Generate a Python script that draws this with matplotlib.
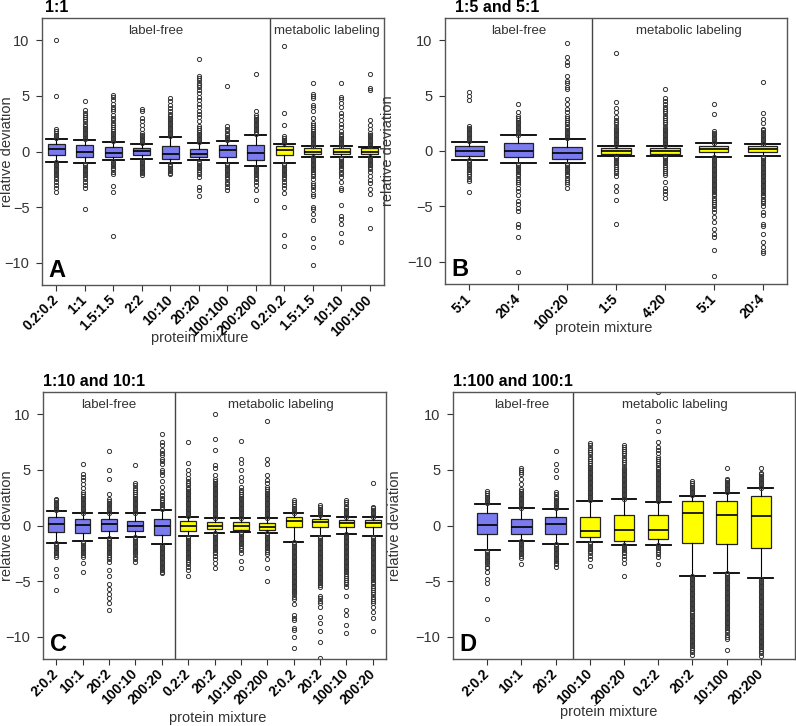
import matplotlib
matplotlib.use('Agg')
import matplotlib.pyplot as plt

plt.rcParams['font.family'] = ['Liberation Sans', 'DejaVu Sans']

FREE_COLOR = '#7b7bf0'
LABEL_COLOR = '#ffff00'

# ---------------- panel A : 1:1 ----------------
a_labels = ['0.2:0.2', '1:1', '1.5:1.5', '2:2', '10:10', '20:20', '100:100', '200:200',
            '0.2:0.2', '1.5:1.5', '10:10', '100:100']
a_n_free = 8
a_med = [0.2, 0.0, -0.1, 0.05, -0.2, -0.2, 0.1, -0.15, 0.1, 0.0, 0.0, 0.0]
a_q1 = [-0.3, -0.5, -0.45, -0.33, -0.7, -0.5, -0.5, -0.75, -0.3, -0.25, -0.25, -0.2]
a_q3 = [0.66, 0.54, 0.42, 0.27, 0.5, 0.2, 0.54, 0.6, 0.45, 0.3, 0.3, 0.3]
a_lo = [-0.9, -1.05, -0.75, -0.65, -1.05, -0.8, -1.05, -1.3, -1.05, -0.45, -0.5, -0.45]
a_hi = [1.1, 1.0, 0.87, 0.63, 1.3, 0.75, 0.9, 1.5, 0.7, 0.45, 0.45, 0.4]
a_fliers = [
    [1.2, 1.35, 1.5, 1.65, 1.8, 2.0, 5.0, 10.0,
     -0.95, -1.1, -1.25, -1.4, -1.55, -1.7, -1.85, -2.0, -2.15, -2.3, -2.5, -2.7, -3.0, -3.3, -3.6],
    [1.1, 1.25, 1.4, 1.55, 1.7, 1.85, 2.0, 2.15, 2.3, 2.5, 2.7, 2.9, 3.1, 3.3, 3.5, 3.7, 4.5,
     -1.1, -1.25, -1.4, -1.55, -1.7, -1.85, -2.0, -2.15, -2.3, -2.5, -2.7, -3.0, -3.3, -5.2],
    [0.95, 1.1, 1.25, 1.4, 1.55, 1.7, 1.85, 2.0, 2.2, 2.4, 2.6, 2.8, 3.0, 3.3, 3.6, 3.8, 4.0, 4.3,
     4.6, 4.9, 5.1,
     -0.85, -1.0, -1.15, -1.3, -1.45, -1.6, -1.8, -2.0, -3.1, -3.6, -7.6],
    [0.75, 0.9, 1.05, 1.2, 1.35, 1.5, 1.7, 2.0, 2.4, 2.7, 3.0, 3.6, 3.8,
     -0.75, -0.9, -1.05, -1.2, -1.35, -1.5, -1.65, -1.8, -1.95, -2.1],
    [1.4, 1.55, 1.7, 1.85, 2.0, 2.15, 2.3, 2.45, 2.6, 2.75, 2.9, 3.05, 3.2, 3.4, 3.6, 3.9, 4.2,
     4.5, 4.8,
     -1.15, -1.3, -1.45, -1.6, -1.75, -1.9, -2.0],
    [0.85, 1.0, 1.15, 1.3, 1.45, 1.6, 1.75, 1.9, 2.1, 2.3, 2.7, 3.1, 3.4, 3.6, 4.0, 4.3, 4.6,
     4.9, 5.3, 5.5, 5.8, 6.0, 6.2, 6.4, 6.6, 6.8, 8.3,
     -0.9, -1.05, -1.2, -1.35, -1.5, -1.65, -1.8, -2.0, -2.3, -3.2, -3.5, -4.0],
    [1.0, 1.15, 1.3, 1.45, 1.6, 1.8, 2.0, 2.3, 5.9,
     -1.1, -1.25, -1.4, -1.55, -1.7, -1.85, -2.0, -2.15, -2.3, -2.5, -2.7, -2.9, -3.2, -3.5],
    [1.6, 1.75, 1.9, 2.05, 2.2, 2.35, 2.5, 2.65, 2.8, 2.95, 3.1, 3.3, 3.6, 7.0,
     -1.4, -1.55, -1.7, -1.85, -2.0, -2.15, -2.3, -2.5, -2.7, -3.0, -3.5, -4.4],
    [0.75, 0.9, 1.05, 1.2, 1.4, 2.4, 3.5, 9.5,
     -1.1, -1.25, -1.4, -1.55, -1.7, -1.85, -2.0, -2.15, -2.3, -2.5, -2.7, -3.0, -3.3, -3.7,
     -5.0, -7.5, -8.5],
    [0.5, 0.65, 0.8, 0.95, 1.1, 1.25, 1.4, 1.55, 1.7, 1.85, 2.0, 2.2, 2.4, 2.6, 3.0, 3.6, 4.0,
     4.2, 4.8, 5.0, 5.2, 6.2,
     -0.5, -0.65, -0.8, -0.95, -1.1, -1.25, -1.4, -1.55, -1.7, -1.85, -2.0, -2.2, -2.5, -2.8,
     -3.0, -3.2, -3.5, -3.8, -4.0, -5.0, -5.2, -5.6, -6.2, -7.8, -8.6, -10.2],
    [0.5, 0.65, 0.8, 0.95, 1.1, 1.25, 1.4, 1.6, 1.8, 2.2, 2.5, 2.8, 3.2, 3.5, 4.0, 4.4, 4.7,
     4.9, 6.2,
     -0.55, -0.7, -0.85, -1.0, -1.15, -1.3, -1.45, -1.6, -1.8, -2.0, -2.3, -2.7, -3.3, -3.5,
     -4.8, -5.8, -6.1, -6.5, -7.3, -8.1],
    [0.45, 0.6, 0.75, 0.9, 1.05, 1.2, 1.35, 1.5, 1.7, 2.0, 2.4, 2.8, 5.5, 5.7, 7.0,
     -0.5, -0.65, -0.8, -0.95, -1.1, -1.25, -1.4, -1.6, -1.8, -2.2, -2.6, -2.8, -3.4, -3.8,
     -5.2, -6.9],
]

# ---------------- panel B : 1:5 and 5:1 ----------------
b_labels = ['5:1', '20:4', '100:20', '1:5', '4:20', '5:1', '20:4']
b_n_free = 3
b_med = [0.0, 0.0, -0.15, 0.0, 0.0, 0.2, 0.2]
b_q1 = [-0.45, -0.57, -0.7, -0.27, -0.27, -0.12, -0.05]
b_q3 = [0.45, 0.7, 0.4, 0.25, 0.25, 0.48, 0.45]
b_lo = [-0.8, -1.1, -1.1, -0.45, -0.45, -0.5, -0.45]
b_hi = [0.85, 1.4, 1.1, 0.48, 0.48, 0.7, 0.6]
b_fliers = [
    [0.9, 1.05, 1.2, 1.35, 1.5, 1.65, 1.8, 1.95, 2.1, 2.3, 4.6, 5.0, 5.3,
     -0.85, -1.0, -1.15, -1.3, -1.45, -1.6, -1.75, -1.9, -2.1, -2.3, -2.5, -2.7, -3.7],
    [1.45, 1.6, 1.75, 1.9, 2.05, 2.2, 2.35, 2.5, 2.65, 2.8, 3.0, 3.2, 3.5, 4.2,
     -1.15, -1.3, -1.45, -1.6, -1.75, -1.9, -2.05, -2.2, -2.4, -2.6, -2.8, -3.0, -3.3, -3.6,
     -4.0, -4.5, -4.8, -5.1, -5.4, -6.6, -6.9, -7.8, -10.9],
    [1.15, 1.3, 1.45, 1.6, 1.75, 1.9, 2.05, 2.2, 2.4, 2.6, 2.8, 3.0, 3.2, 3.5, 3.8, 4.2, 4.7,
     5.6, 5.8, 6.1, 6.3, 6.8, 7.8, 8.0, 8.5, 9.7,
     -1.15, -1.3, -1.45, -1.6, -1.75, -1.9, -2.05, -2.2, -2.4, -2.6, -2.8, -3.0, -3.3],
    [0.5, 0.65, 0.8, 0.95, 1.1, 1.25, 1.4, 1.55, 1.7, 1.85, 2.0, 2.2, 2.4, 2.6, 2.8, 3.1, 3.5,
     3.9, 4.4, 8.8,
     -0.5, -0.65, -0.8, -0.95, -1.1, -1.25, -1.4, -1.6, -1.8, -2.0, -2.3, -3.2, -3.6, -4.4, -6.6],
    [0.5, 0.65, 0.8, 0.95, 1.1, 1.25, 1.4, 1.55, 1.7, 1.85, 2.0, 2.2, 2.4, 2.6, 2.8, 3.0, 3.2,
     3.4, 3.6, 3.8, 4.0, 4.2, 4.5, 4.8, 5.6,
     -0.5, -0.65, -0.8, -0.95, -1.1, -1.25, -1.4, -1.6, -1.8, -2.0, -2.2, -2.8, -3.3, -3.6,
     -3.9, -4.2],
    [0.75, 0.9, 1.05, 1.2, 1.35, 1.5, 1.65, 1.8, 3.3, 4.2,
     -0.55, -0.7, -0.85, -1.0, -1.15, -1.3, -1.45, -1.6, -1.75, -1.9, -2.05, -2.2, -2.35, -2.5,
     -2.65, -2.8, -2.95, -3.1, -3.25, -3.4, -3.55, -3.7, -3.85, -4.0, -4.2, -4.4, -4.6, -4.8,
     -5.0, -5.2, -5.5, -6.0, -6.4, -7.0, -7.5, -7.8, -8.9, -11.3],
    [0.65, 0.8, 0.95, 1.1, 1.25, 1.4, 1.55, 1.7, 1.85, 2.0, 2.5, 2.9, 3.4, 6.2,
     -0.5, -0.65, -0.8, -0.95, -1.1, -1.25, -1.4, -1.55, -1.7, -1.85, -2.0, -2.15, -2.3, -2.45,
     -2.6, -2.75, -2.9, -3.05, -3.2, -3.35, -3.5, -3.65, -3.8, -3.95, -4.1, -4.3, -4.5, -4.7,
     -5.0, -5.5, -5.8, -6.6, -6.8, -7.5, -8.2, -8.7, -9.0, -9.2],
]

# ---------------- panel C : 1:10 and 10:1 ----------------
c_labels = ['2:0.2', '10:1', '20:2', '100:10', '200:20', '0.2:2', '20:2', '10:100', '20:200',
            '2:0.2', '20:2', '100:10', '200:20']
c_n_free = 5
c_med = [0.15, 0.06, 0.12, -0.03, -0.03, 0.0, -0.03, -0.03, -0.1, 0.36, 0.27, 0.2, 0.24]
c_q1 = [-0.6, -0.63, -0.5, -0.48, -0.84, -0.5, -0.33, -0.4, -0.4, -0.1, -0.1, -0.1, -0.1]
c_q3 = [0.8, 0.57, 0.6, 0.42, 0.57, 0.42, 0.27, 0.27, 0.24, 0.75, 0.6, 0.48, 0.48]
c_lo = [-1.53, -1.38, -1.08, -1.0, -1.67, -0.93, -0.63, -0.6, -0.63, -1.47, -0.93, -0.72, -0.93]
c_hi = [1.26, 1.1, 1.1, 1.1, 1.4, 0.8, 0.66, 0.66, 0.66, 1.1, 0.87, 0.78, 0.78]
c_fliers = [
    [1.35, 1.5, 1.65, 1.8, 1.95, 2.1, 2.25, 2.4,
     -1.6, -1.75, -1.9, -2.05, -2.2, -2.35, -2.5, -2.65, -2.8, -3.9, -4.5, -5.8],
    [1.15, 1.3, 1.45, 1.6, 1.75, 1.9, 2.05, 2.2, 2.35, 2.5, 2.65, 2.8, 3.0, 3.4, 3.7, 4.1, 4.4,
     4.6, 5.5,
     -1.45, -1.6, -1.75, -1.9, -2.05, -2.2, -2.35, -2.5, -2.65, -2.8, -3.4, -4.2],
    [1.15, 1.3, 1.45, 1.6, 1.75, 1.9, 2.05, 2.2, 2.4, 2.8, 4.2, 5.0, 6.7,
     -1.15, -1.3, -1.45, -1.6, -1.75, -1.9, -2.05, -2.2, -2.35, -2.5, -2.65, -2.8, -3.0, -3.3,
     -4.0, -4.5, -5.3, -5.7, -6.2, -6.5, -7.0, -7.6],
    [1.15, 1.3, 1.45, 1.6, 1.75, 1.9, 2.05, 2.2, 2.35, 2.5, 2.65, 2.8, 3.0, 3.2, 3.4, 3.6, 3.8,
     5.4,
     -1.05, -1.2, -1.35, -1.5, -1.65, -1.8, -1.95, -2.1, -2.25, -2.4, -2.6, -2.8, -3.0, -3.3],
    [1.5, 1.65, 1.8, 1.95, 2.1, 2.3, 2.5, 2.7, 3.0, 3.5, 4.0, 4.5, 4.8, 5.0, 5.5, 5.8, 6.0, 6.3,
     6.5, 6.8, 7.2, 7.5, 8.2,
     -1.75, -1.9, -2.05, -2.2, -2.35, -2.5, -2.65, -2.8, -2.95, -3.1, -3.25, -3.4, -3.55, -3.7,
     -3.85, -4.0, -4.15, -4.3],
    [0.85, 1.0, 1.15, 1.3, 1.45, 1.6, 1.75, 1.9, 2.05, 2.2, 2.35, 2.5, 2.65, 2.8, 2.95, 3.1,
     3.25, 3.4, 3.6, 3.8, 4.0, 4.3, 4.6, 5.0, 5.6, 7.5,
     -1.0, -1.15, -1.3, -1.45, -1.6, -1.75, -1.9, -2.05, -2.2, -2.35, -2.5, -2.65, -2.8, -2.95,
     -3.1, -3.3, -3.5, -3.7, -4.0, -4.5],
    [0.7, 0.85, 1.0, 1.15, 1.3, 1.45, 1.6, 1.75, 1.9, 2.05, 2.2, 2.35, 2.5, 2.65, 2.8, 2.95,
     3.1, 3.25, 3.4, 3.55, 3.7, 3.85, 4.0, 4.2, 4.5, 5.2, 5.4, 6.8, 7.8, 10.0,
     -0.7, -0.85, -1.0, -1.15, -1.3, -1.45, -1.6, -1.75, -1.9, -2.05, -2.2, -2.35, -2.5, -2.7,
     -3.0, -3.4, -3.8],
    [0.7, 0.85, 1.0, 1.15, 1.3, 1.45, 1.6, 1.75, 1.9, 2.05, 2.2, 2.35, 2.5, 2.65, 2.8, 3.0,
     3.2, 3.5, 4.0, 4.4, 5.0, 5.6, 6.0, 7.6,
     -0.65, -0.8, -0.95, -1.1, -1.25, -1.4, -1.55, -1.7, -1.85, -2.0, -2.2, -2.5, -3.2, -3.8],
    [0.7, 0.85, 1.0, 1.15, 1.3, 1.45, 1.6, 1.75, 1.9, 2.05, 2.2, 2.35, 2.5, 2.65, 2.8, 2.95,
     3.1, 3.3, 3.5, 3.8, 4.1, 4.5, 5.5, 6.0, 9.4,
     -0.7, -0.85, -1.0, -1.15, -1.3, -1.45, -1.6, -1.75, -1.9, -2.05, -2.2, -2.4, -2.6, -3.0,
     -3.8, -5.0],
    [1.15, 1.3, 1.45, 1.6, 1.75, 1.9, 2.1, 2.3,
     -1.5, -1.65, -1.8, -1.95, -2.1, -2.25, -2.4, -2.55, -2.7, -2.85, -3.0, -3.15, -3.3, -3.45,
     -3.6, -3.75, -3.9, -4.05, -4.2, -4.35, -4.5, -4.65, -4.8, -4.95, -5.1, -5.25, -5.4, -5.55,
     -5.7, -5.85, -6.0, -6.2, -6.4, -6.6, -7.1, -8.0, -8.3, -8.5, -9.2, -9.4, -10.0, -11.0],
    [0.9, 1.05, 1.2, 1.35, 1.5, 1.65, 1.8,
     -1.0, -1.15, -1.3, -1.45, -1.6, -1.75, -1.9, -2.05, -2.2, -2.35, -2.5, -2.65, -2.8, -2.95,
     -3.1, -3.25, -3.4, -3.55, -3.7, -3.85, -4.0, -4.15, -4.3, -4.45, -4.6, -4.75, -4.9, -5.05,
     -5.2, -5.35, -5.5, -6.3, -6.5, -6.8, -7.0, -7.3, -8.2, -8.8, -9.5, -10.5, -11.9],
    [0.8, 0.95, 1.1, 1.25, 1.4, 1.55, 1.7, 1.9, 2.1, 2.3,
     -0.75, -0.9, -1.05, -1.2, -1.35, -1.5, -1.65, -1.8, -1.95, -2.1, -2.25, -2.4, -2.55, -2.7,
     -2.85, -3.0, -3.15, -3.3, -3.45, -3.6, -3.75, -3.9, -4.05, -4.2, -4.35, -4.5, -4.7, -4.9,
     -5.1, -5.3, -5.5, -6.3, -7.6, -8.0, -8.9, -9.7],
    [0.8, 0.95, 1.1, 1.25, 1.4, 1.55, 1.7, 3.8,
     -1.0, -1.15, -1.3, -1.45, -1.6, -1.75, -1.9, -2.05, -2.2, -2.35, -2.5, -2.65, -2.8, -2.95,
     -3.1, -3.25, -3.4, -3.55, -3.7, -3.85, -4.0, -4.15, -4.3, -4.45, -4.6, -4.75, -4.9, -5.05,
     -5.2, -5.4, -5.6, -5.8, -6.0, -6.2, -6.4, -6.6, -6.8, -7.0, -7.3, -7.8, -8.3, -9.5],
]

# ---------------- panel D : 1:100 and 100:1 ----------------
d_labels = ['2:0.2', '10:1', '20:2', '100:10', '200:20', '0.2:2', '20:2', '10:100', '20:200']
d_n_free = 3
d_med = [0.06, -0.12, 0.09, -0.45, -0.4, -0.36, 1.15, 0.93, 0.87]
d_q1 = [-0.8, -0.75, -0.75, -1.05, -1.35, -1.2, -1.54, -1.66, -2.05]
d_q3 = [1.15, 0.54, 0.78, 0.75, 0.9, 0.9, 2.17, 2.2, 2.68]
d_lo = [-2.2, -1.36, -1.66, -1.5, -1.72, -1.72, -4.5, -4.25, -4.73]
d_hi = [1.9, 1.54, 1.48, 2.2, 2.35, 2.14, 2.68, 2.92, 3.34]
d_fliers = [
    [2.0, 2.15, 2.3, 2.45, 2.6, 2.75, 2.9, 3.1,
     -2.25, -2.4, -2.55, -2.7, -2.85, -3.0, -3.15, -3.3, -3.5, -3.7, -3.8, -4.2, -4.8, -5.2,
     -6.6, -8.4],
    [1.6, 1.75, 1.9, 2.05, 2.2, 2.35, 2.5, 2.65, 2.8, 2.95, 3.1, 3.3, 3.7, 4.2, 4.6, 4.8, 5.0,
     5.2,
     -1.4, -1.55, -1.7, -1.85, -2.0, -2.15, -2.3, -2.45, -2.6, -2.75, -2.9, -3.5],
    [1.55, 1.7, 1.85, 2.0, 2.15, 2.3, 2.45, 2.6, 2.8, 3.0, 4.4, 5.0, 5.5, 6.7,
     -1.7, -1.85, -2.0, -2.15, -2.3, -2.45, -2.6, -2.75, -2.9, -3.05, -3.2, -3.35, -3.5, -3.7],
    [2.3, 2.45, 2.6, 2.75, 2.9, 3.05, 3.2, 3.35, 3.5, 3.65, 3.8, 3.95, 4.1, 4.25, 4.4, 4.55,
     4.7, 4.85, 5.0, 5.15, 5.3, 5.45, 5.6, 5.8, 6.0, 6.2, 6.4, 6.6, 6.8, 7.0, 7.2, 7.4,
     -1.55, -1.7, -1.85, -2.0, -2.15, -2.3, -2.5, -2.7, -3.0, -3.6],
    [2.4, 2.55, 2.7, 2.85, 3.0, 3.15, 3.3, 3.45, 3.6, 3.75, 3.9, 4.05, 4.2, 4.35, 4.5, 4.65,
     4.8, 4.95, 5.1, 5.3, 5.5, 5.7, 5.9, 6.1, 6.3, 6.5, 6.7, 6.9, 7.05, 7.2,
     -1.75, -1.9, -2.05, -2.2, -2.35, -2.5, -2.7, -3.0, -3.4, -4.5],
    [2.2, 2.35, 2.5, 2.65, 2.8, 2.95, 3.1, 3.25, 3.4, 3.55, 3.7, 3.85, 4.0, 4.15, 4.3, 4.45,
     4.6, 4.75, 4.9, 5.05, 5.2, 5.4, 5.6, 5.8, 6.0, 6.2, 6.5, 6.8, 7.1, 7.5, 8.5, 9.4, 12.0,
     -1.75, -1.9, -2.05, -2.2, -2.4, -2.6, -2.8, -3.5],
    [2.75, 2.9, 3.05, 3.2, 3.35, 3.5, 3.65, 3.8, 4.0,
     -4.55, -4.7, -4.85, -5.0, -5.15, -5.3, -5.45, -5.6, -5.75, -5.9, -6.05, -6.2, -6.35, -6.5,
     -6.65, -6.8, -6.95, -7.1, -7.25, -7.4, -7.55, -7.7, -7.85, -8.0, -8.15, -8.3, -8.45, -8.6,
     -8.75, -8.9, -9.05, -9.2, -9.35, -9.5, -9.65, -9.8, -9.95, -10.1, -10.25, -10.4, -10.55,
     -10.7, -10.85, -11.0, -11.2, -11.4, -11.6],
    [3.0, 3.15, 3.3, 3.45, 3.6, 3.75, 3.9, 4.05, 4.2, 5.2,
     -4.3, -4.45, -4.6, -4.75, -4.9, -5.05, -5.2, -5.35, -5.5, -5.65, -5.8, -5.95, -6.1, -6.25,
     -6.4, -6.55, -6.7, -6.85, -7.0, -7.15, -7.3, -7.45, -7.6, -7.75, -7.9, -8.05, -8.2, -8.35,
     -8.5, -8.65, -8.8, -8.95, -9.1, -9.25, -9.4, -9.6, -9.8, -10.0, -10.2, -11.2],
    [3.4, 3.55, 3.7, 3.85, 4.0, 4.15, 4.3, 4.45, 4.6, 4.7, 5.2,
     -4.8, -4.95, -5.1, -5.25, -5.4, -5.55, -5.7, -5.85, -6.0, -6.15, -6.3, -6.45, -6.6, -6.75,
     -6.9, -7.05, -7.2, -7.35, -7.5, -7.65, -7.8, -7.95, -8.1, -8.25, -8.4, -8.55, -8.7, -8.85,
     -9.0, -9.15, -9.3, -9.45, -9.6, -9.75, -9.9, -10.05, -10.2, -10.35, -10.5, -10.65, -10.8,
     -10.95, -11.1, -11.3, -11.5, -11.7],
]


def draw_panel(ax, labels, n_free, med, q1, q3, lo, hi, fliers, letter, xlim):
    stats = []
    for i in range(len(labels)):
        stats.append({'med': med[i], 'q1': q1[i], 'q3': q3[i], 'whislo': lo[i],
                      'whishi': hi[i], 'fliers': fliers[i], 'label': labels[i]})
    pos = list(range(1, len(labels) + 1))
    bp = ax.bxp(stats, positions=pos, widths=0.6, capwidths=0.72, patch_artist=True,
                boxprops=dict(edgecolor='#222222', linewidth=0.9),
                medianprops=dict(color='black', linewidth=1.2),
                whiskerprops=dict(color='black', linewidth=0.8),
                capprops=dict(color='black', linewidth=1.3),
                flierprops=dict(marker='o', markersize=3, markerfacecolor='none',
                                markeredgecolor='#333333', markeredgewidth=0.7))
    for i, box in enumerate(bp['boxes']):
        box.set_facecolor(FREE_COLOR if i < n_free else LABEL_COLOR)

    ax.set_xlim(*xlim)
    ax.set_ylim(-12, 12)
    ax.set_yticks([-10, -5, 0, 5, 10])
    ax.set_xticks(pos)
    ax.set_xticklabels(labels, rotation=45, ha='right', va='center',
                       rotation_mode='anchor', fontweight='bold', fontsize=10)
    ax.tick_params(axis='x', length=4, pad=5, color='#333333')
    ax.tick_params(axis='y', length=4, pad=5, labelsize=10.5, color='#333333',
                   labelcolor='#333333')
    for sp in ax.spines.values():
        sp.set_color('#555555')
        sp.set_linewidth(1.0)

    # divider between label-free and metabolic labeling
    split = n_free + 0.5
    ax.axvline(split, color='#444444', linewidth=1.0)
    tr = ax.get_xaxis_transform()
    ax.text((0.5 + split) / 2, 0.95, 'label-free', transform=tr, ha='center',
            va='center', fontsize=9.5, color='#333333')
    ax.text((split + len(labels) + 0.5) / 2, 0.95, 'metabolic labeling', transform=tr,
            ha='center', va='center', fontsize=9.5, color='#333333')

    ax.text(0.02, 0.03, letter, transform=ax.transAxes, fontsize=17,
            fontweight='bold', va='baseline')
    ax.set_ylabel('relative deviation', fontsize=10.5, color='#333333')
    ax.yaxis.label.set_va('center')
    ax.set_xlabel('protein mixture', fontsize=10.5, color='#333333')
    ax.xaxis.label.set_va('center')


fig = plt.figure(figsize=(7.96, 7.26), dpi=100)
W, H = 796.0, 726.0

axA = fig.add_axes([42 / W, (H - 285) / H, 342 / W, 267 / H])
axB = fig.add_axes([445 / W, (H - 284) / H, 342 / W, 266 / H])
axC = fig.add_axes([43 / W, (H - 659) / H, 343 / W, 267 / H])
axD = fig.add_axes([453 / W, (H - 659) / H, 342 / W, 267 / H])

draw_panel(axA, a_labels, a_n_free, a_med, a_q1, a_q3, a_lo, a_hi, a_fliers, 'A', (0.5, 12.5))
draw_panel(axB, b_labels, b_n_free, b_med, b_q1, b_q3, b_lo, b_hi, b_fliers, 'B', (0.5, 7.5))
draw_panel(axC, c_labels, c_n_free, c_med, c_q1, c_q3, c_lo, c_hi, c_fliers, 'C', (0.5, 13.5))
draw_panel(axD, d_labels, d_n_free, d_med, d_q1, d_q3, d_lo, d_hi, d_fliers, 'D', (0.0, 10.0))

# label placement per panel
axA.xaxis.set_label_coords(0.462, -0.199)
axB.xaxis.set_label_coords(0.465, -0.165)
axC.xaxis.set_label_coords(0.51, -0.221)
axD.xaxis.set_label_coords(0.455, -0.199)
axA.yaxis.set_label_coords(-0.102, 0.5)
axB.yaxis.set_label_coords(-0.167, 0.5)
axC.yaxis.set_label_coords(-0.105, 0.5)
axD.yaxis.set_label_coords(-0.169, 0.5)

fig.text(45 / W, 1 - 8 / H, '1:1', fontsize=11.5, fontweight='bold', va='center')
fig.text(455 / W, 1 - 7 / H, '1:5 and 5:1', fontsize=11.5, fontweight='bold', va='center')
fig.text(43 / W, 1 - 381 / H, '1:10 and 10:1', fontsize=11.5, fontweight='bold', va='center')
fig.text(453 / W, 1 - 381 / H, '1:100 and 100:1', fontsize=11.5, fontweight='bold',
         va='center')

fig.savefig('out.png', dpi=100)
